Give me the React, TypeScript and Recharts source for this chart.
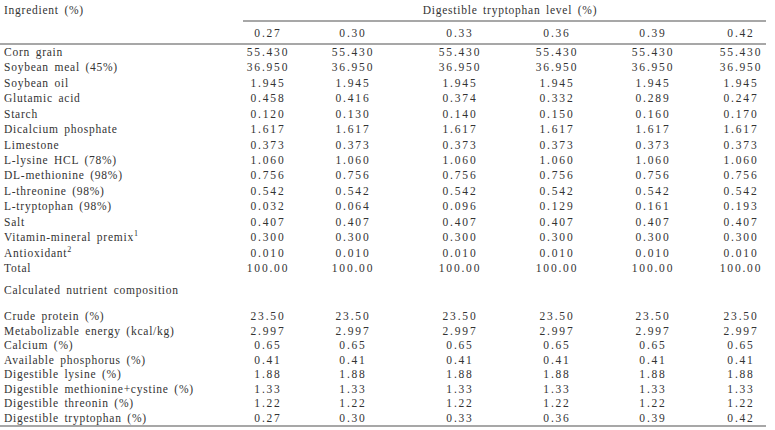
import { ScatterChart, Scatter, XAxis, YAxis, ReferenceLine } from 'recharts';

const LEVELS = ['0.27', '0.30', '0.33', '0.36', '0.39', '0.42'];

const INGREDIENTS = [
  'Corn grain', 'Soybean meal (45%)', 'Soybean oil', 'Glutamic acid', 'Starch',
  'Dicalcium phosphate', 'Limestone', 'L-lysine HCL (78%)', 'DL-methionine (98%)',
  'L-threonine (98%)', 'L-tryptophan (98%)', 'Salt', 'Vitamin-mineral premix',
  'Antioxidant', 'Total',
];
const INGREDIENT_NOTES = ['', '', '', '', '', '', '', '', '', '', '', '', '1', '2', ''];

const INGREDIENT_VALUES = [
  ['55.430', '55.430', '55.430', '55.430', '55.430', '55.430'],
  ['36.950', '36.950', '36.950', '36.950', '36.950', '36.950'],
  ['1.945', '1.945', '1.945', '1.945', '1.945', '1.945'],
  ['0.458', '0.416', '0.374', '0.332', '0.289', '0.247'],
  ['0.120', '0.130', '0.140', '0.150', '0.160', '0.170'],
  ['1.617', '1.617', '1.617', '1.617', '1.617', '1.617'],
  ['0.373', '0.373', '0.373', '0.373', '0.373', '0.373'],
  ['1.060', '1.060', '1.060', '1.060', '1.060', '1.060'],
  ['0.756', '0.756', '0.756', '0.756', '0.756', '0.756'],
  ['0.542', '0.542', '0.542', '0.542', '0.542', '0.542'],
  ['0.032', '0.064', '0.096', '0.129', '0.161', '0.193'],
  ['0.407', '0.407', '0.407', '0.407', '0.407', '0.407'],
  ['0.300', '0.300', '0.300', '0.300', '0.300', '0.300'],
  ['0.010', '0.010', '0.010', '0.010', '0.010', '0.010'],
  ['100.00', '100.00', '100.00', '100.00', '100.00', '100.00'],
];

const NUTRIENTS = [
  'Crude protein (%)', 'Metabolizable energy (kcal/kg)', 'Calcium (%)',
  'Available phosphorus (%)', 'Digestible lysine (%)',
  'Digestible methionine+cystine (%)', 'Digestible threonin (%)',
  'Digestible tryptophan (%)',
];

const NUTRIENT_VALUES = [
  ['23.50', '23.50', '23.50', '23.50', '23.50', '23.50'],
  ['2.997', '2.997', '2.997', '2.997', '2.997', '2.997'],
  ['0.65', '0.65', '0.65', '0.65', '0.65', '0.65'],
  ['0.41', '0.41', '0.41', '0.41', '0.41', '0.41'],
  ['1.88', '1.88', '1.88', '1.88', '1.88', '1.88'],
  ['1.33', '1.33', '1.33', '1.33', '1.33', '1.33'],
  ['1.22', '1.22', '1.22', '1.22', '1.22', '1.22'],
  ['0.27', '0.30', '0.33', '0.36', '0.39', '0.42'],
];

const W = 775;
const H = 430;
const LABEL_X = 4;
const COL_X = [268, 353, 460, 557, 653, 741];
const INK = '#333';
const RULE = '#8a8a8a';

interface Cell {
  x: number;
  y: number;
  text: string;
  sup?: string;
  anchor: 'start' | 'middle';
  num: boolean;
}

// build the text cells of the table
const cells: Cell[] = [];
cells.push({ x: LABEL_X, y: 10, text: 'Ingredient (%)', anchor: 'start', num: false });
cells.push({ x: 510, y: 10, text: 'Digestible tryptophan level (%)', anchor: 'middle', num: false });
LEVELS.forEach((l, c) => cells.push({ x: COL_X[c], y: 33, text: l, anchor: 'middle', num: true }));

INGREDIENTS.forEach((name, r) => {
  const y = 52 + r * 15.43;
  cells.push({ x: LABEL_X, y, text: name, sup: INGREDIENT_NOTES[r], anchor: 'start', num: false });
  INGREDIENT_VALUES[r].forEach((v, c) => cells.push({ x: COL_X[c], y, text: v, anchor: 'middle', num: true }));
});

cells.push({ x: LABEL_X, y: 290, text: 'Calculated nutrient composition', anchor: 'start', num: false });

NUTRIENTS.forEach((name, r) => {
  const y = 316 + r * 14.57;
  cells.push({ x: LABEL_X, y, text: name, anchor: 'start', num: false });
  NUTRIENT_VALUES[r].forEach((v, c) => cells.push({ x: COL_X[c], y, text: v, anchor: 'middle', num: true }));
});

function CellText(props: any) {
  const { cx, cy, payload } = props;
  return (
    <text
      x={cx}
      y={cy}
      textAnchor={payload.anchor}
      dominantBaseline="central"
      fontFamily="'Liberation Serif', 'Times New Roman', serif"
      fontSize={11.5}
      letterSpacing={payload.num ? 1.8 : 0.75}
      wordSpacing={2}
      fill={INK}
    >
      {payload.text}
      {payload.sup ? <tspan dy={-4} fontSize={8}>{payload.sup}</tspan> : null}
    </text>
  );
}

export default function App() {
  return (
    <div style={{ position: 'absolute', left: 0, top: 0, width: W, height: H, background: '#fff' }}>
      <ScatterChart width={W} height={H} margin={{ top: 0, right: 0, bottom: 0, left: 0 }}>
        <XAxis type="number" dataKey="x" domain={[0, W]} hide />
        <YAxis type="number" dataKey="y" domain={[0, H]} reversed hide />
        <ReferenceLine segment={[{ x: 243, y: 21 }, { x: 766, y: 21 }]} stroke={RULE} strokeWidth={1.5} />
        <ReferenceLine segment={[{ x: 0, y: 44 }, { x: 766, y: 44 }]} stroke={RULE} strokeWidth={1.5} />
        <ReferenceLine segment={[{ x: 0, y: 426 }, { x: 766, y: 426 }]} stroke={RULE} strokeWidth={1.5} />
        <Scatter data={cells} shape={CellText} isAnimationActive={false} />
      </ScatterChart>
    </div>
  );
}
